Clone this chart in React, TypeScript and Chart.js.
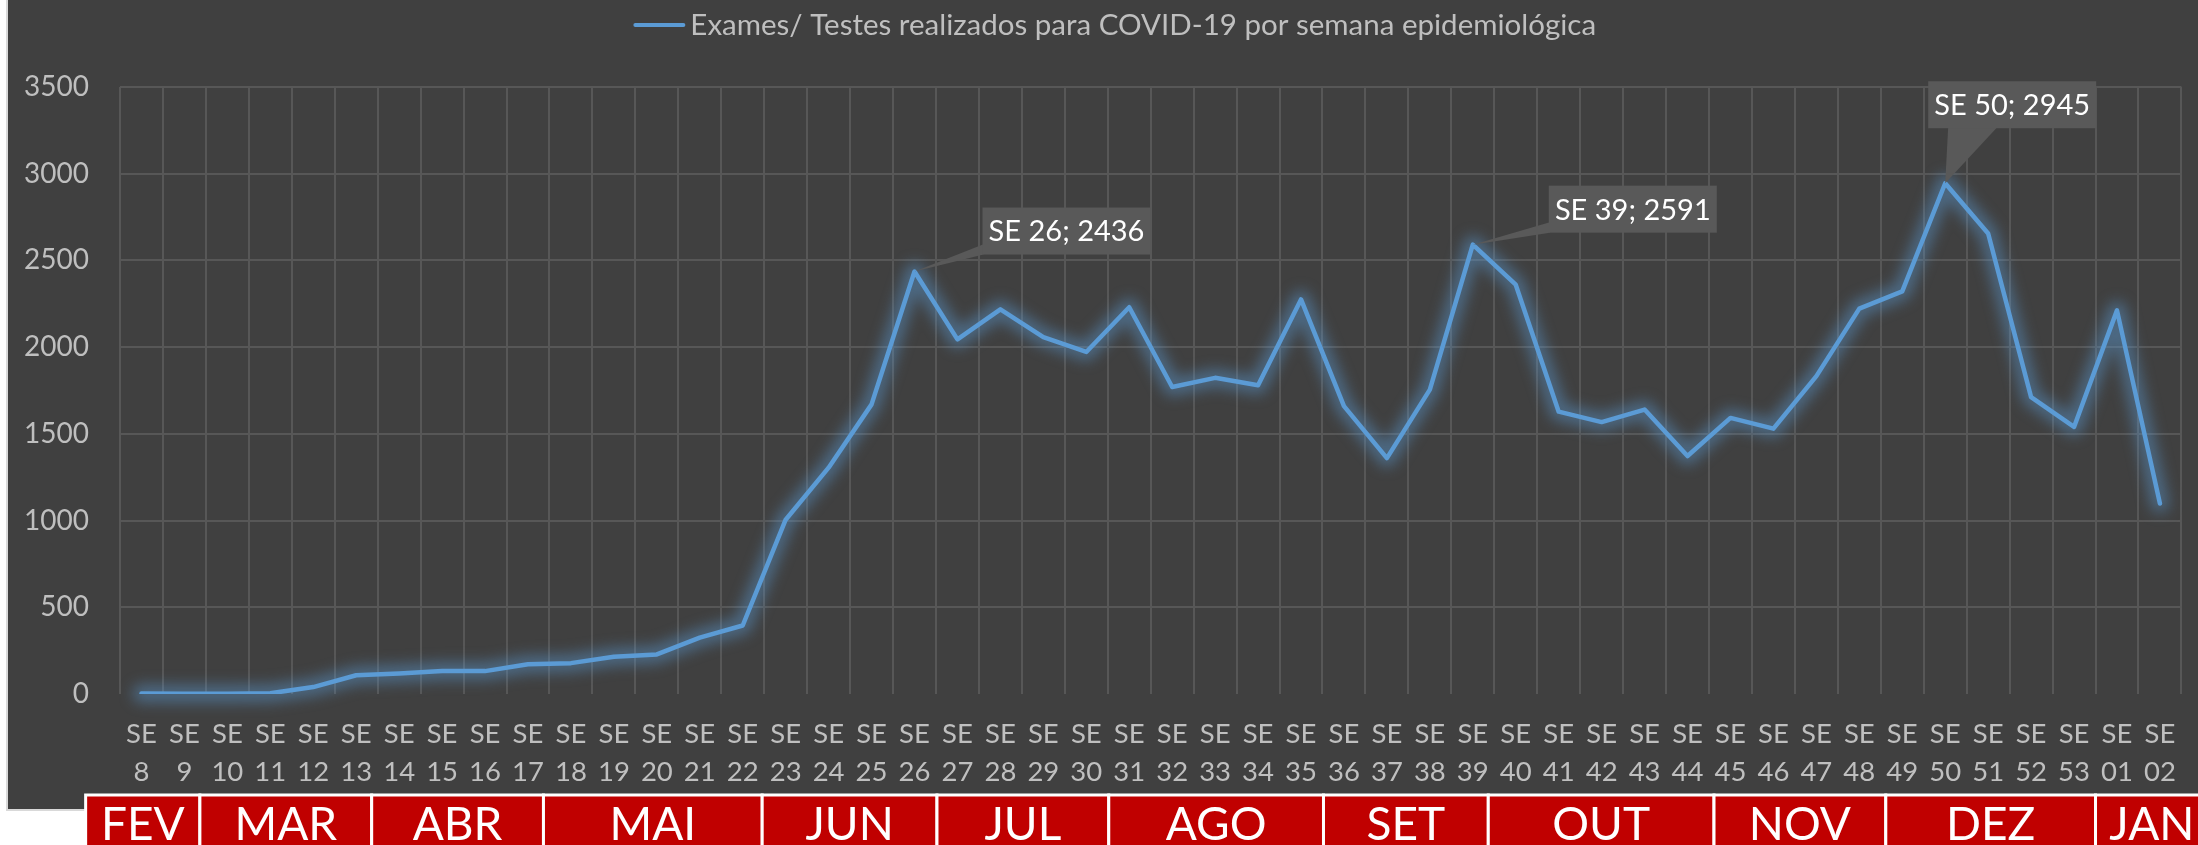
import React, { useEffect, useRef } from 'react';
import { Chart, registerables } from 'chart.js';

Chart.register(...registerables);

// ---------- data ----------
const weekLabels = [
  '8', '9', '10', '11', '12', '13', '14', '15', '16', '17', '18', '19', '20', '21', '22',
  '23', '24', '25', '26', '27', '28', '29', '30', '31', '32', '33', '34', '35', '36', '37',
  '38', '39', '40', '41', '42', '43', '44', '45', '46', '47', '48', '49', '50', '51', '52',
  '53', '01', '02',
];
const testsPerWeek = [
  3, 1, 1, 4, 40, 108, 118, 132, 132, 172, 178, 215, 228, 325, 395,
  1005, 1305, 1670, 2436, 2045, 2218, 2058, 1972, 2230, 1770, 1823, 1780, 2275, 1660, 1360,
  1755, 2591, 2360, 1628, 1568, 1640, 1372, 1592, 1530, 1833, 2222, 2322, 2945, 2655, 1712,
  1540, 2212, 1098,
];
const yTickValues = [0, 500, 1000, 1500, 2000, 2500, 3000, 3500];
const seriesName = 'Exames/ Testes realizados para COVID-19 por semana epidemiológica';
const monthNames = ['FEV', 'MAR', 'ABR', 'MAI', 'JUN', 'JUL', 'AGO', 'SET', 'OUT', 'NOV', 'DEZ', 'JAN'];
const monthWeekCounts = [2, 4, 4, 5, 4, 4, 5, 4, 5, 4, 5, 2];
const calloutIndices = [18, 31, 42]; // SE 26, SE 39, SE 50

// ---------- styles ----------
const FONT = 'Lato, "Open Sans", sans-serif';
const TEXT_GRAY = '#BFBFBF';
const GRID = '#575757';
const LINE_BLUE = '#5B9BD5';
const CALLOUT_BG = '#595959';
const calloutStyles = [
  { dx: 68, dy: -64, w: 168, h: 47, pointer: 'left' },
  { dx: 76, dy: -59, w: 168, h: 47, pointer: 'left' },
  { dx: -17, dy: -102, w: 168, h: 47, pointer: 'bottom' },
];
// small hand-placed nudges (px) of the right edge of each month box
const monthEdgeNudge = [-6, -6, -6, -2, 1, 1, 1, -6, 5, 5, 0, 0];

const backgroundPlugin = {
  id: 'bgPanel',
  beforeDraw(chart: any) {
    const { ctx, width, height } = chart;
    ctx.save();
    ctx.fillStyle = '#FFFFFF';
    ctx.fillRect(0, 0, width, height);
    ctx.fillStyle = '#404040';
    ctx.fillRect(7, 0, width - 7, 809);
    ctx.strokeStyle = '#D9D9D9';
    ctx.lineWidth = 2;
    ctx.beginPath();
    ctx.moveTo(7, 0);
    ctx.lineTo(7, 810);
    ctx.lineTo(width, 810);
    ctx.stroke();
    ctx.restore();
  },
};

const legendPlugin = {
  id: 'customLegend',
  afterDraw(chart: any) {
    const { ctx } = chart;
    ctx.save();
    ctx.font = `29.5px ${FONT}`;
    const tw = ctx.measureText(seriesName).width;
    const lineW = 52;
    const gap = 5;
    const total = lineW + gap + tw;
    const cx = (chart.chartArea.left + chart.chartArea.right) / 2 - 36;
    const x0 = cx - total / 2;
    const y = 25;
    ctx.strokeStyle = LINE_BLUE;
    ctx.lineWidth = 4;
    ctx.lineCap = 'round';
    ctx.beginPath();
    ctx.moveTo(x0 + 2, y);
    ctx.lineTo(x0 + lineW - 2, y);
    ctx.stroke();
    ctx.fillStyle = TEXT_GRAY;
    ctx.textBaseline = 'middle';
    ctx.textAlign = 'left';
    ctx.fillText(seriesName, x0 + lineW + gap, y);
    ctx.restore();
  },
};

// soft glow drawn under the series line, following the library's point positions
const glowPlugin = {
  id: 'glow',
  beforeDatasetDraw(chart: any, args: any) {
    const ctx = chart.ctx;
    const pts = args.meta.data;
    ctx.save();
    ctx.beginPath();
    pts.forEach((p: any, i: number) => (i === 0 ? ctx.moveTo(p.x, p.y) : ctx.lineTo(p.x, p.y)));
    ctx.strokeStyle = 'rgba(91,155,213,0.45)';
    ctx.lineWidth = 18;
    ctx.lineJoin = 'round';
    ctx.lineCap = 'round';
    ctx.filter = 'blur(7px)';
    ctx.stroke();
    ctx.restore();
  },
};

const calloutPlugin = {
  id: 'callouts',
  afterDatasetsDraw(chart: any) {
    const { ctx } = chart;
    const meta = chart.getDatasetMeta(0);
    ctx.save();
    calloutIndices.forEach((idx, k) => {
      const pt = meta.data[idx];
      const st = calloutStyles[k];
      const px = pt.x;
      const py = pt.y;
      const left = px + st.dx;
      const top = py + st.dy;
      ctx.fillStyle = CALLOUT_BG;
      ctx.beginPath();
      ctx.moveTo(px, py);
      if (st.pointer === 'left') {
        ctx.lineTo(left + 1, top + st.h * 0.78);
        ctx.lineTo(left + 1, top + st.h);
      } else {
        ctx.lineTo(left + 20, top + st.h - 1);
        ctx.lineTo(left + 69, top + st.h - 1);
      }
      ctx.closePath();
      ctx.fill();
      ctx.fillRect(left, top, st.w, st.h);
      ctx.fillStyle = '#FFFFFF';
      ctx.font = `29px ${FONT}`;
      ctx.textAlign = 'center';
      ctx.textBaseline = 'middle';
      ctx.fillText(`SE ${weekLabels[idx]}; ${testsPerWeek[idx]}`, left + st.w / 2, top + st.h / 2 + 1);
    });
    ctx.restore();
  },
};

const monthPlugin = {
  id: 'months',
  afterDraw(chart: any) {
    const { ctx } = chart;
    const xs = chart.scales.x;
    const step = xs.getPixelForValue(1) - xs.getPixelForValue(0);
    let start = 0;
    let left = xs.getPixelForValue(0) - step / 2 - step * 0.8;
    ctx.save();
    monthNames.forEach((name, m) => {
      const n = monthWeekCounts[m];
      let right = xs.getPixelForValue(start + n - 1) + step / 2 + monthEdgeNudge[m];
      if (m === monthNames.length - 1) right = chart.width + 10;
      const top = 795;
      const bottom = chart.height + 10;
      ctx.fillStyle = '#C00000';
      ctx.fillRect(left, top, right - left, bottom - top);
      ctx.strokeStyle = '#FFFFFF';
      ctx.lineWidth = 3;
      ctx.strokeRect(left, top, right - left, bottom - top);
      ctx.fillStyle = '#FFFFFF';
      ctx.font = `46px ${FONT}`;
      ctx.textAlign = 'center';
      ctx.textBaseline = 'middle';
      ctx.fillText(name, (left + right) / 2, 825);
      left = right;
      start += n;
    });
    ctx.restore();
  },
};

export default function App() {
  const canvasRef = useRef<HTMLCanvasElement | null>(null);

  useEffect(() => {
    if (!canvasRef.current) return;
    const chart = new Chart(canvasRef.current, {
      type: 'line',
      data: {
        labels: weekLabels.map((w) => ['SE', w]),
        datasets: [
          {
            label: seriesName,
            data: testsPerWeek,
            borderColor: LINE_BLUE,
            backgroundColor: LINE_BLUE,
            borderWidth: 4.5,
            pointRadius: 0,
            pointHoverRadius: 0,
            tension: 0,
            borderJoinStyle: 'round',
            borderCapStyle: 'round',
            fill: false,
          },
        ],
      },
      options: {
        responsive: false,
        animation: false,
        devicePixelRatio: 1,
        layout: { padding: { top: 87, left: 0, right: 11, bottom: 0 } },
        plugins: {
          legend: { display: false },
          tooltip: { enabled: false },
          title: { display: false },
        },
        scales: {
          x: {
            type: 'category',
            offset: true,
            grid: {
              offset: true,
              color: GRID,
              lineWidth: 2,
              drawTicks: false,
            },
            border: { display: false },
            ticks: {
              color: TEXT_GRAY,
              font: { family: FONT, size: 27.5, lineHeight: 1.35 },
              padding: 22,
              maxRotation: 0,
              minRotation: 0,
              autoSkip: false,
            },
            afterFit(scale: any) {
              scale.height = 151;
            },
          },
          y: {
            min: 0,
            max: 3500,
            grid: {
              color: (c: any) => (c.tick && c.tick.value === 0 ? 'rgba(0,0,0,0)' : GRID),
              lineWidth: 2,
              drawTicks: false,
            },
            border: { display: false },
            afterBuildTicks(scale: any) {
              scale.ticks = yTickValues.map((v) => ({ value: v }));
            },
            ticks: {
              color: TEXT_GRAY,
              font: { family: FONT, size: 28 },
              padding: 31,
              callback: (v: any) => String(v),
            },
            afterFit(scale: any) {
              scale.width = 120;
            },
          },
        },
      },
      plugins: [backgroundPlugin, glowPlugin, calloutPlugin, legendPlugin, monthPlugin],
    } as any);
    return () => chart.destroy();
  }, []);

  return (
    <div style={{ position: 'fixed', left: 0, top: 0, width: 2198, height: 845, background: '#fff' }}>
      <canvas ref={canvasRef} width={2198} height={845} style={{ display: 'block', width: 2198, height: 845 }} />
    </div>
  );
}
